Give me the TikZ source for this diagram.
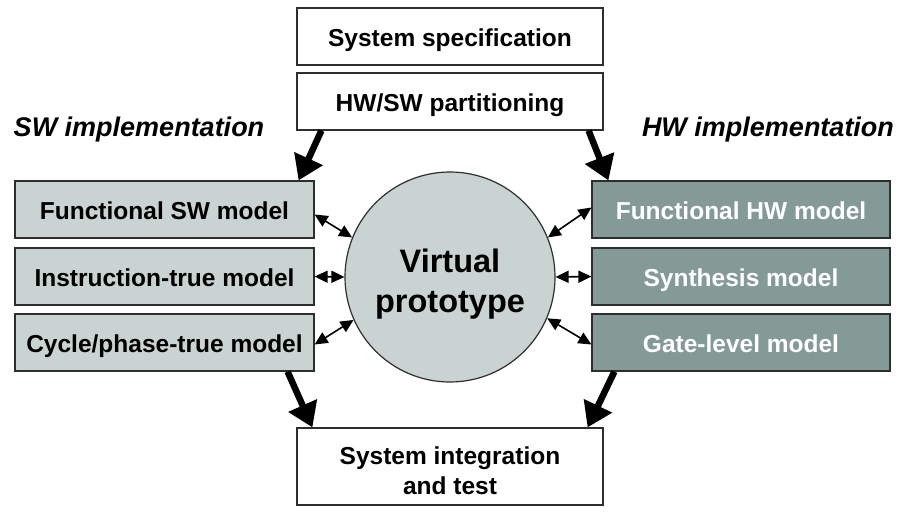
\documentclass[tikz,border=0pt]{standalone}
\usepackage{fontspec}
\setmainfont{Liberation Sans}
\usetikzlibrary{arrows.meta,shapes.geometric}
\definecolor{swfill}{HTML}{C9D3D1}
\definecolor{hwfill}{HTML}{849A97}
\definecolor{edge}{HTML}{2E2E2E}
\tikzset{
  box/.style={draw=edge, line width=1.2pt, rectangle, inner sep=0pt,
    font=\fontsize{24.5}{30}\selectfont\bfseries, align=center,
    text height=20pt, text depth=0pt},
  whitebox/.style={box, fill=white, minimum width=306pt, minimum height=57pt},
  swbox/.style={box, fill=swfill, minimum width=299pt, minimum height=57pt},
  hwbox/.style={box, fill=hwfill, text=white, minimum width=298pt, minimum height=57pt},
  sidelabel/.style={font=\fontsize{27}{32}\selectfont\bfseries\itshape},
  flow/.style={line width=6.5pt, -{Triangle[length=24pt,width=30pt]}},
  link/.style={line width=1.6pt, {Triangle[length=13pt,width=12pt]}-{Triangle[length=13pt,width=12pt]}}
}
\begin{document}
\begin{tikzpicture}[x=1pt,y=-1pt]
\useasboundingbox (0,0) rectangle (898,512);

% top of the flow
\node[whitebox] (spec) at (450,36.5) {System specification};
\node[whitebox] (hwsw) at (450,101.5) {HW/SW partitioning};

% side headings
\node[sidelabel] (swlab) at (139,130) {SW implementation};
\node[sidelabel] (hwlab) at (768,130) {HW implementation};

% software models
\node[swbox] (fsw) at (164.5,209.5) {Functional SW model};
\node[swbox] (itm) at (164.5,276.5) {Instruction-true model};
\node[swbox] (cpt) at (164.5,342.5) {Cycle/phase-true model};

% hardware models
\node[hwbox] (fhw) at (741,209.5) {Functional HW model};
\node[hwbox] (syn) at (741,276.5) {Synthesis model};
\node[hwbox] (gl)  at (741,342.5) {Gate-level model};

% central prototype
\node[circle, draw=edge, line width=1.2pt, fill=swfill, minimum size=210pt, inner sep=0pt,
      font=\fontsize{32.5}{40}\selectfont\bfseries, align=center,
      text height=71pt, text depth=0pt] (vp) at (450,277)
      {Virtual\\prototype};

% end of the flow
\node[whitebox, minimum height=77pt, text height=56pt] (sit) at (450,466.5)
      {System integration\\and test};

% main flow arrows
\draw[flow] ([xshift=25pt]hwsw.south west) -- ([xshift=-16pt]fsw.north east);
\draw[flow] ([xshift=-15pt]hwsw.south east) -- ([xshift=17pt]fhw.north west);
\draw[flow] ([xshift=-27pt]cpt.south east) -- ([xshift=16pt]sit.north west);
\draw[flow] ([xshift=23pt]gl.south west) -- ([xshift=-16pt]sit.north east);

% exchanges with the prototype
\draw[link] ([yshift=-5pt]fsw.east) -- (vp.158);
\draw[link] (itm.east) -- (vp.west);
\draw[link] ([yshift=-2pt]cpt.east) -- (vp.204);
\draw[link] ([yshift=2pt]fhw.west) -- (vp.22);
\draw[link] (syn.west) -- (vp.east);
\draw[link] ([yshift=-2pt]gl.west) -- (vp.-23);
\end{tikzpicture}
\end{document}
